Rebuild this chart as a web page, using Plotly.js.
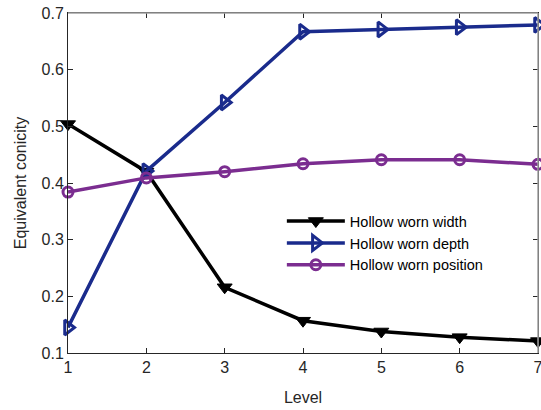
<!DOCTYPE html>
<html><head><meta charset="utf-8">
<script src="https://cdn.plot.ly/plotly-3.0.1.min.js"></script>
<style>html,body{margin:0;padding:0;background:#fff;}#chart{width:541px;height:410px;}</style>
</head><body><div id="chart"></div>
<script>
const levels = [1, 2, 3, 4, 5, 6, 7];
const widthVals = [0.504, 0.420, 0.216, 0.157, 0.138, 0.128, 0.121];
const depthVals = [0.145, 0.421, 0.542, 0.667, 0.671, 0.675, 0.679];
const positionVals = [0.384, 0.409, 0.420, 0.434, 0.441, 0.441, 0.433];
const names = ["Hollow worn width", "Hollow worn depth", "Hollow worn position"];

const traces = [
  {x: levels, y: widthVals, name: names[0], mode: "lines+markers", cliponaxis: false,
   line: {color: "#000000", width: 3.5},
   marker: {symbol: "triangle-down", size: 13, color: "#000000", line: {color: "#000000", width: 1}}},
  {x: levels, y: depthVals, name: names[1], mode: "lines+markers", cliponaxis: false,
   line: {color: "#1a2b8c", width: 3.5},
   marker: {symbol: "triangle-right-open", size: 13, color: "#1a2b8c", line: {color: "#1a2b8c", width: 3}}},
  {x: levels, y: positionVals, name: names[2], mode: "lines+markers", cliponaxis: false,
   line: {color: "#7b2d90", width: 3.5},
   marker: {symbol: "circle-open", size: 10, color: "#7b2d90", line: {color: "#7b2d90", width: 3}}}
];

const layout = {
  width: 541, height: 410,
  margin: {l: 68, r: 3, t: 13, b: 57},
  paper_bgcolor: "#fff", plot_bgcolor: "#fff",
  font: {family: "Liberation Sans, Arial, sans-serif", size: 16, color: "#262626"},
  showlegend: true,
  legend: {x: 0.455, y: 0.435, xanchor: "left", yanchor: "top", bgcolor: "rgba(255,255,255,0)",
           font: {size: 14.5, color: "#000"}, tracegroupgap: 0, itemwidth: 58},
  xaxis: {range: [1, 7], tickvals: levels, ticks: "inside", ticklen: 5, tickcolor: "#262626",
          ticklabeloverflow: "allow",
          showline: true, linecolor: "#262626", linewidth: 1, mirror: "ticks", showgrid: false, zeroline: false,
          title: {text: "Level", font: {size: 16, color: "#262626"}, standoff: 16}},
  yaxis: {range: [0.1, 0.7], dtick: 0.1, tickformat: ".1f", ticks: "inside", ticklen: 5, tickcolor: "#262626",
          ticklabeloverflow: "allow",
          showline: true, linecolor: "#262626", linewidth: 1, mirror: "ticks", showgrid: false, zeroline: false,
          title: {text: "Equivalent conicity", font: {size: 16, color: "#262626"}, standoff: 10}},
  shapes: [
    {type: "line", xref: "paper", yref: "paper", x0: 0, x1: 1, y0: 1, y1: 1, line: {color: "#a0a0a0", width: 1.5}},
    {type: "line", xref: "paper", yref: "paper", x0: 1, x1: 1, y0: 0, y1: 1, line: {color: "#a0a0a0", width: 1.5}}
  ]
};
Plotly.newPlot("chart", traces, layout, {displayModeBar: false, staticPlot: true});
</script></body></html>
